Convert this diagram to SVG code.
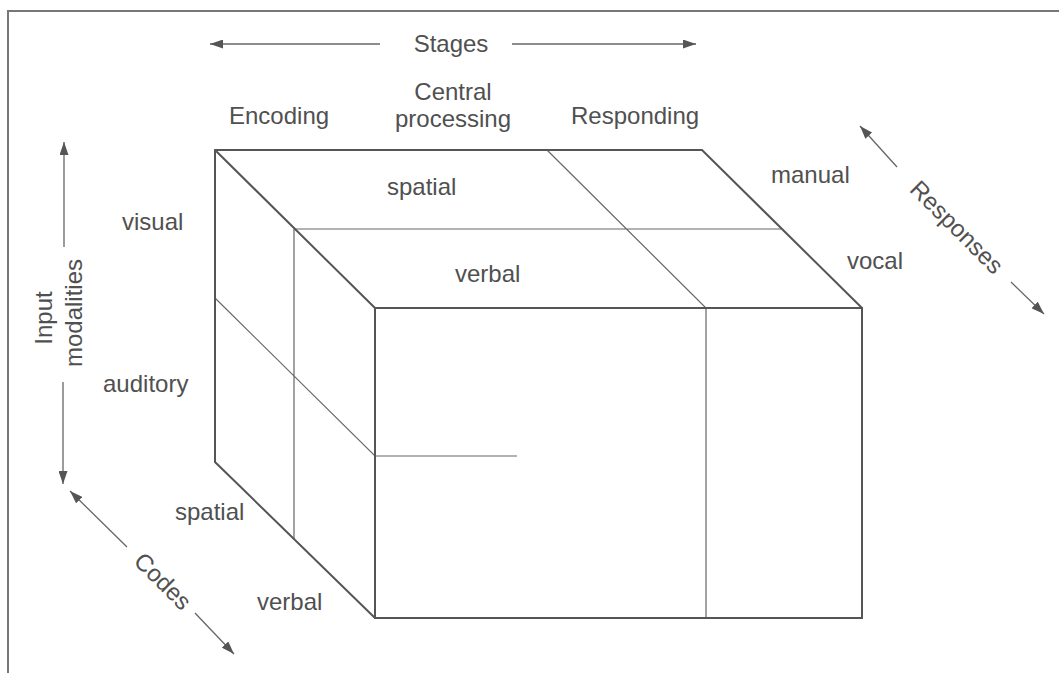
<svg xmlns="http://www.w3.org/2000/svg" width="1059" height="673" viewBox="0 0 1059 673">
<style>
text{font-family:"Liberation Sans",Arial,sans-serif;font-size:24px;fill:#505050}
.edge{stroke:#555;stroke-width:2;fill:none;stroke-linecap:round}
.inner{stroke:#666;stroke-width:1.2;fill:none}
.arr{stroke:#666;stroke-width:1.3;fill:none;marker-end:url(#ah)}
.m{text-anchor:middle}
</style>
<defs>
<marker id="ah" markerUnits="userSpaceOnUse" markerWidth="13" markerHeight="9" refX="13" refY="4.5" orient="auto">
<path d="M0,0 L13,4.5 L0,9 z" fill="#555"/>
</marker>
</defs>
<rect x="0" y="0" width="1059" height="673" fill="#fff"/>
<rect id="frame" x="8" y="11" width="1070" height="680" fill="none" stroke="#777" stroke-width="2"/>

<g id="cube">
<path class="inner" d="M294,229 L781,229 M294,229 L294,539 M547,150 L706,308 L706,618 M215,298 L375,456 L517,456"/>
<path class="edge" d="M215,150 L702,150 L862,308 M215,150 L375,308 M215,150 L215,462 L375,618"/>
<rect class="edge" x="375" y="308" width="487" height="310"/>
</g>

<g id="connectors">
<line class="arr" x1="380" y1="44" x2="210" y2="44"/>
<line class="arr" x1="512" y1="44" x2="696" y2="44"/>
<line class="arr" x1="64" y1="247" x2="64" y2="142"/>
<line class="arr" x1="63" y1="382" x2="63" y2="484"/>
<line class="arr" x1="897" y1="167" x2="860" y2="126"/>
<line class="arr" x1="1011" y1="282" x2="1044" y2="314"/>
<line class="arr" x1="127" y1="547" x2="70" y2="491"/>
<line class="arr" x1="195" y1="613" x2="234" y2="654"/>
</g>

<g id="labels">
<text class="m" x="451" y="52">Stages</text>
<text x="229" y="124">Encoding</text>
<text class="m" x="453" y="100">Central</text>
<text class="m" x="453" y="127">processing</text>
<text x="571" y="124">Responding</text>
<text x="122" y="230">visual</text>
<text x="103" y="392">auditory</text>
<text transform="translate(52,318) rotate(-90)" class="m">Input</text>
<text transform="translate(82,313) rotate(-90)" class="m">modalities</text>
<text x="387" y="195">spatial</text>
<text x="455" y="282">verbal</text>
<text x="771" y="183">manual</text>
<text x="847" y="269">vocal</text>
<text class="m" transform="translate(957,227) rotate(45)" dy="0.35em">Responses</text>
<text x="175" y="520">spatial</text>
<text x="257" y="610">verbal</text>
<text class="m" transform="translate(163,581) rotate(45)" dy="0.35em">Codes</text>
</g>
</svg>
